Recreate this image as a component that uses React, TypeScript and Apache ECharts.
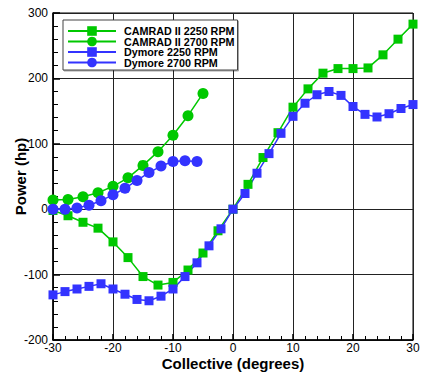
import React, { useEffect, useRef } from "react";
import * as echarts from "echarts";

const camrad2250X = [-30, -27.5, -25, -22.5, -20, -17.5, -15, -12.5, -10, -7.5, -5, -2.5, 0, 2.5, 5, 7.5, 10, 12.5, 15, 17.5, 20, 22.5, 25, 27.5, 30];
const camrad2250Y = [-2, -10, -20, -29, -50, -74, -103, -116, -112, -93, -67, -33, 0, 38, 79, 117, 156, 184, 208, 215, 215, 216, 236, 260, 283];

const camrad2700X = [-30, -27.5, -25, -22.5, -20, -17.5, -15, -12.5, -10, -7.5, -5];
const camrad2700Y = [14, 15, 19, 25, 35, 48, 67, 88, 113, 143, 177];

const dymore2250X = [-30, -28, -26, -24, -22, -20, -18, -16, -14, -12, -10, -8, -6, -4, -2, 0, 2, 4, 6, 8, 10, 12, 14, 16, 18, 20, 22, 24, 26, 28, 30];
const dymore2250Y = [-131, -126, -122, -118, -114, -122, -130, -138, -140, -133, -122, -103, -82, -56, -30, 0, 24, 55, 85, 116, 142, 162, 175, 180, 174, 157, 145, 141, 146, 154, 160];

const dymore2700X = [-30, -28, -26, -24, -22, -20, -18, -16, -14, -12, -10, -8, -6];
const dymore2700Y = [0, 0, 2, 6, 13, 22, 32, 44, 56, 66, 73, 74, 73];

const seriesNames = ["CAMRAD II 2250 RPM", "CAMRAD II 2700 RPM", "Dymore 2250 RPM", "Dymore 2700 RPM"];
const xTicks = [-30, 30, 10];
const yTicks = [-200, 300, 100];

const GREEN = "#00c800";
const BLUE = "#3333ff";
const FONT = "'Liberation Sans', Arial, Helvetica, sans-serif";

const pairs = (xs: number[], ys: number[]) => xs.map((x, i) => [x, ys[i]]);

export default function App() {
  const ref = useRef<HTMLDivElement>(null);
  useEffect(() => {
    const chart = echarts.init(ref.current!, null, { renderer: "svg" });
    const mk = (name: string, data: number[][], color: string, symbol: string, size: number) => ({
      name,
      type: "line",
      data,
      symbol,
      symbolSize: size,
      showSymbol: true,
      lineStyle: { color, width: 1.5 },
      itemStyle: { color },
      emphasis: { disabled: true },
    });
    chart.setOption({
      animation: false,
      textStyle: { fontFamily: FONT },
      grid: {
        left: 53,
        right: 14,
        top: 13,
        bottom: 35,
        containLabel: false,
        outerBoundsMode: "none",
        show: true,
        borderColor: "#000",
        borderWidth: 1,
        backgroundColor: "transparent",
      },
      legend: {
        orient: "vertical",
        left: 63,
        top: 20,
        itemWidth: 48,
        itemHeight: 12,
        itemGap: -1.5,
        padding: [5, 3, 1.5, 4],
        backgroundColor: "#fff",
        borderColor: "#444",
        borderWidth: 1,
        shadowColor: "rgba(0,0,0,0.35)",
        shadowOffsetX: 1,
        shadowOffsetY: 1,
        shadowBlur: 1,
        textStyle: {
          fontFamily: FONT,
          fontSize: 10.75,
          lineHeight: 12,
          fontWeight: "bold",
          color: "#000",
          padding: [0, 0, 0, 3],
        },
        data: seriesNames,
      },
      xAxis: {
        type: "value",
        min: xTicks[0],
        max: xTicks[1],
        interval: xTicks[2],
        name: "Collective (degrees)",
        nameLocation: "middle",
        nameGap: 16,
        nameMoveOverlap: false,
        nameTextStyle: { fontFamily: FONT, fontSize: 15, fontWeight: "bold", color: "#000", verticalAlign: "top" },
        axisLine: { show: true, onZero: false, lineStyle: { color: "#000", width: 1.5 } },
        axisTick: { show: true, inside: true, length: 6, lineStyle: { color: "#000", width: 1.5 } },
        minorTick: { show: true, splitNumber: 5, length: 4, lineStyle: { color: "#000", width: 1 } },
        axisLabel: { fontFamily: FONT, fontSize: 12, color: "#000", margin: 2 },
        splitLine: { show: true, lineStyle: { color: "#222", width: 1 } },
      },
      yAxis: {
        type: "value",
        min: yTicks[0],
        max: yTicks[1],
        interval: yTicks[2],
        name: "Power (hp)",
        nameLocation: "middle",
        nameGap: 25,
        nameMoveOverlap: false,
        nameTextStyle: { fontFamily: FONT, fontSize: 15, fontWeight: "bold", color: "#000" },
        axisLine: { show: true, onZero: false, lineStyle: { color: "#000", width: 1.5 } },
        axisTick: { show: true, inside: true, length: 7, lineStyle: { color: "#000", width: 1.5 } },
        minorTick: { show: true, splitNumber: 5, length: 5, lineStyle: { color: "#000", width: 1 } },
        axisLabel: { fontFamily: FONT, fontSize: 12, color: "#000", margin: 5 },
        splitLine: { show: true, lineStyle: { color: "#222", width: 1 } },
      },
      series: [
        mk(seriesNames[0], pairs(camrad2250X, camrad2250Y), GREEN, "rect", 9),
        mk(seriesNames[1], pairs(camrad2700X, camrad2700Y), GREEN, "circle", 11),
        mk(seriesNames[2], pairs(dymore2250X, dymore2250Y), BLUE, "rect", 9),
        mk(seriesNames[3], pairs(dymore2700X, dymore2700Y), BLUE, "circle", 11),
      ],
    });
    return () => chart.dispose();
  }, []);
  return (
    <div
      ref={ref}
      style={{ position: "fixed", left: 0, top: 0, width: 427, height: 375, background: "#fff" }}
    />
  );
}
